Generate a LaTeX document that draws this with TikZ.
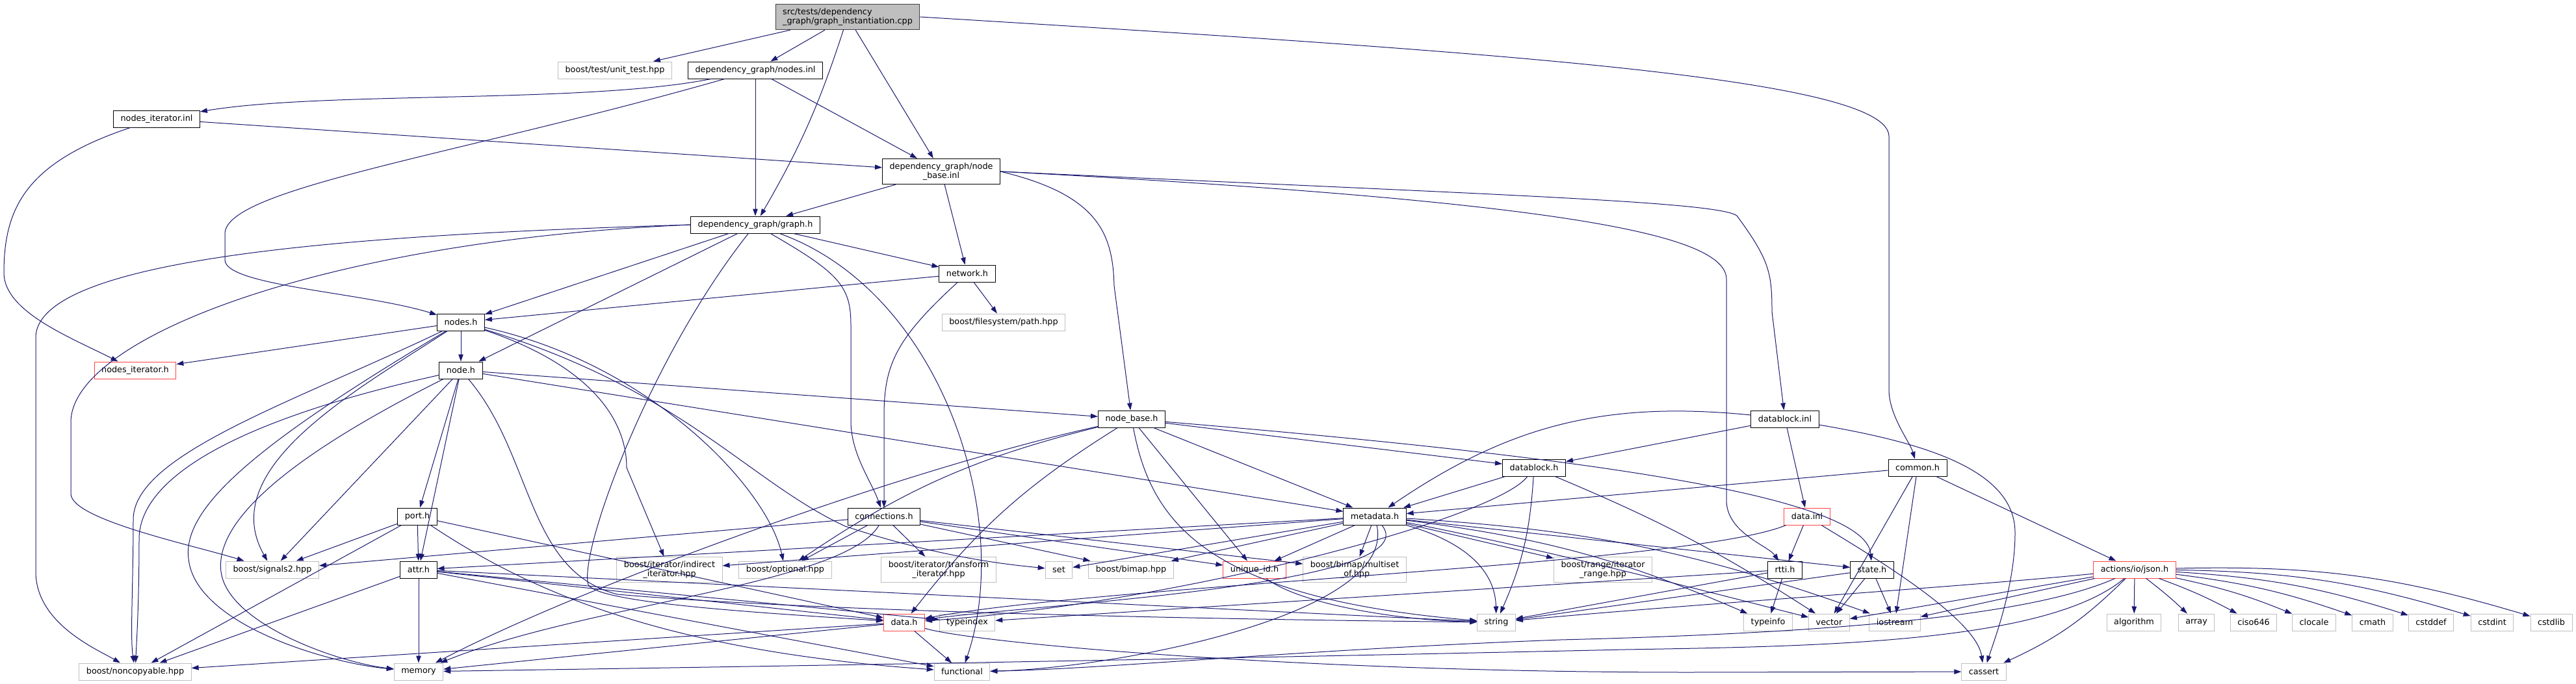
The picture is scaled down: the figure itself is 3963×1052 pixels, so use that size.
\documentclass[tikz,border=0pt]{standalone}
\usepackage{fontspec}
\setmainfont{DejaVu Sans}
\usetikzlibrary{arrows.meta}
\definecolor{edgeblue}{HTML}{191970}
\definecolor{extgray}{HTML}{BFBFBF}
\definecolor{rootgray}{HTML}{BFBFBF}
\definecolor{truncred}{HTML}{FF4545}
\begin{document}
\begin{tikzpicture}[x=1pt, y=-1pt,
    file/.style={rectangle, draw=black, fill=white, line width=1pt,
                 inner xsep=11pt, inner ysep=6pt, minimum height=26pt,
                 font=\fontsize{12.8}{14.6}\selectfont, align=center},
    ext/.style={file, draw=extgray},
    trunc/.style={file, draw=truncred},
    dep/.style={-{Triangle[length=11pt,width=7.5pt]}, line width=1pt, color=edgeblue}
  ]
    \fill[white] (0,0) rectangle (3963,1052);
    \useasboundingbox (0,0) rectangle (3963,1052);

    %% files
    \node[file, fill=rootgray, draw=black!75, align=left] (root) at (1304,26)
        {src/tests/dependency\\\_graph/graph\_instantiation.cpp};
    \node[ext] (unittest) at (946,108) {boost/test/unit\_test.hpp};
    \node[file] (nodesinl) at (1162,108) {dependency\_graph/nodes.inl};
    \node[file] (nodesiterinl) at (241,183) {nodes\_iterator.inl};
    \node[file] (nodebaseinl) at (1448,264) {dependency\_graph/node\\\_base.inl};
    \node[file] (graphh) at (1162,346) {dependency\_graph/graph.h};
    \node[file] (networkh) at (1488,421) {network.h};
    \node[ext] (pathhpp) at (1544,496) {boost/filesystem/path.hpp};
    \node[file] (nodesh) at (709,496) {nodes.h};
    \node[trunc] (nodesiterh) at (208,570) {nodes\_iterator.h};
    \node[file] (nodeh) at (709,570) {node.h};
    \node[file] (nodebaseh) at (1741,645) {node\_base.h};
    \node[file] (datablockinl) at (2746,645) {datablock.inl};
    \node[file] (datablockh) at (2360,720) {datablock.h};
    \node[file] (commonh) at (2950,720) {common.h};
    \node[file] (connh) at (1360,795) {connections.h};
    \node[file] (metah) at (2115,795) {metadata.h};
    \node[file] (porth) at (642,795) {port.h};
    \node[trunc] (datainl) at (2780,795) {data.inl};
    \node[ext] (signals) at (419,877) {boost/signals2.hpp};
    \node[file] (attrh) at (644,877) {attr.h};
    \node[ext] (indirect) at (1030,877) {boost/iterator/indirect\\\_iterator.hpp};
    \node[ext] (optional) at (1208,877) {boost/optional.hpp};
    \node[ext] (transform) at (1444,877) {boost/iterator/transform\\\_iterator.hpp};
    \node[ext] (set) at (1629,877) {set};
    \node[ext] (bimap) at (1740,877) {boost/bimap.hpp};
    \node[trunc] (uniqueid) at (1930,877) {unique\_id.h};
    \node[ext] (multiset) at (2084,877) {boost/bimap/multiset\\\_of.hpp};
    \node[ext] (rangeit) at (2466,877) {boost/range/iterator\\\_range.hpp};
    \node[file] (rttih) at (2746,877) {rtti.h};
    \node[file] (stateh) at (2880,877) {state.h};
    \node[trunc] (jsonh) at (3284,877) {actions/io/json.h};
    \node[trunc] (datah) at (1391,958) {data.h};
    \node[ext] (typeindex) at (1488,958) {typeindex};
    \node[ext] (string) at (2302,958) {string};
    \node[ext] (typeinfo) at (2720,958) {typeinfo};
    \node[ext] (vector) at (2814,958) {vector};
    \node[ext] (iostream) at (2915,958) {iostream};
    \foreach \n/\x in {algorithm/3283, array/3379, ciso646/3467, clocale/3560,
                       cmath/3650, cstddef/3740, cstdint/3834, cstdlib/3925}
        \node[ext] (\n) at (\x,958) {\n};
    \node[ext] (noncopy) at (208,1034) {boost/noncopyable.hpp};
    \node[ext] (memory) at (644,1034) {memory};
    \node[ext] (functional) at (1480,1034) {functional};
    \node[ext] (cassert) at (3052,1034) {cassert};

    %% root
    \draw[dep] (root) -- (unittest);
    \draw[dep] (root) -- (nodesinl);
    \draw[dep] (root) to[bend left=6] (graphh);
    \draw[dep] (root) -- (nodebaseinl);
    \draw[dep] (root.east) .. controls (2300,80) and (2906,120) .. (2906,210)
        -- (2906,600) .. controls (2906,640) and (2938,680) .. (commonh);

    %% nodes.inl, nodes_iterator.inl
    \draw[dep] (nodesinl) .. controls (900,160) and (500,140) .. (nodesiterinl);
    \draw[dep] (nodesinl) .. controls (700,240) and (346,290) .. (346,360)
        -- (346,400) .. controls (346,440) and (560,450) .. (nodesh);
    \draw[dep] (nodesinl) -- (graphh);
    \draw[dep] (nodesinl) -- (nodebaseinl);
    \draw[dep] (nodesiterinl) -- (nodebaseinl);
    \draw[dep] (nodesiterinl) .. controls (40,250) and (6,320) .. (6,420)
        .. controls (6,480) and (110,520) .. (nodesiterh);

    %% node_base.inl
    \draw[dep] (nodebaseinl) -- (graphh);
    \draw[dep] (nodebaseinl) -- (networkh);
    \draw[dep] (nodebaseinl.east) .. controls (1690,300) and (1712,360) .. (1714,440)
        -- (nodebaseh);
    \draw[dep] (nodebaseinl.east) .. controls (2300,300) and (2640,310) .. (2672,332)
        .. controls (2722,400) and (2726,420) .. (2726,480) -- (datablockinl);
    \draw[dep] (nodebaseinl.east) .. controls (2400,310) and (2656,360) .. (2656,430)
        -- (2656,770) .. controls (2656,820) and (2720,840) .. (rttih);

    %% graph.h
    \draw[dep] (graphh) -- (nodesh);
    \draw[dep] (graphh) -- (nodeh);
    \draw[dep] (graphh) -- (networkh);
    \draw[dep] (graphh) .. controls (1290,420) and (1309,440) .. (1309,500)
        -- (1309,650) .. controls (1310,700) and (1340,740) .. (connh);
    \draw[dep] (graphh.west) .. controls (600,360) and (55,390) .. (55,520)
        -- (55,880) .. controls (55,960) and (150,1000) .. (noncopy);
    \draw[dep] (graphh.west) .. controls (500,370) and (109,520) .. (109,650)
        -- (109,760) .. controls (109,800) and (300,840) .. (signals);
    \draw[dep] (graphh) .. controls (1450,450) and (1560,800) .. (functional);
    \draw[dep] (graphh) .. controls (1000,550) and (890,850) .. (905,900)
        .. controls (920,930) and (1200,945) .. (datah);

    %% network.h
    \draw[dep] (networkh) -- (nodesh);
    \draw[dep] (networkh) -- (pathhpp);
    \draw[dep] (networkh) .. controls (1380,520) and (1360,560) .. (1360,640) -- (connh);

    %% nodes.h
    \draw[dep] (nodesh) -- (nodesiterh);
    \draw[dep] (nodesh) -- (nodeh);
    \draw[dep] (nodesh) .. controls (450,620) and (205,700) .. (205,800)
        .. controls (205,900) and (200,980) .. (noncopy);
    \draw[dep] (nodesh) .. controls (400,680) and (280,780) .. (290,860)
        .. controls (300,960) and (500,1020) .. (memory);
    \draw[dep] (nodesh) .. controls (550,600) and (330,720) .. (signals);
    \draw[dep] (nodesh) .. controls (900,560) and (964,640) .. (964,720) -- (indirect);
    \draw[dep] (nodesh) .. controls (1000,560) and (1180,750) .. (optional);
    \draw[dep] (nodesh) .. controls (1050,600) and (1150,740) .. (1300,810)
        .. controls (1450,860) and (1560,870) .. (set);

    %% node.h
    \draw[dep] (nodeh) -- (nodebaseh);
    \draw[dep] (nodeh) -- (metah);
    \draw[dep] (nodeh) -- (porth);
    \draw[dep] (nodeh) -- (attrh);
    \draw[dep] (nodeh) -- (signals);
    \draw[dep] (nodeh) .. controls (350,650) and (214,740) .. (214,830)
        .. controls (214,930) and (210,990) .. (noncopy);
    \draw[dep] (nodeh) .. controls (450,700) and (330,800) .. (340,880)
        .. controls (350,960) and (520,1020) .. (memory);
    \draw[dep] (nodeh) .. controls (820,700) and (810,880) .. (950,915)
        .. controls (1300,945) and (2000,955) .. (string);

    %% node_base.h
    \draw[dep] (nodebaseh) -- (datablockh);
    \draw[dep] (nodebaseh) -- (metah);
    \draw[dep] (nodebaseh) .. controls (2400,700) and (2870,760) .. (stateh);
    \draw[dep] (nodebaseh) -- (uniqueid);
    \draw[dep] (nodebaseh) .. controls (1770,800) and (1850,920) .. (string);
    \draw[dep] (nodebaseh) to[bend right=10] (optional);
    \draw[dep] (nodebaseh) .. controls (1400,720) and (900,900) .. (memory);
    \draw[dep] (nodebaseh) to[bend right=10] (datah);

    %% datablock.inl, datablock.h
    \draw[dep] (datablockinl) -- (datablockh);
    \draw[dep] (datablockinl) to[bend right=20] (metah);
    \draw[dep] (datablockinl) -- (datainl);
    \draw[dep] (datablockinl) .. controls (2950,680) and (3100,720) .. (3100,820)
        .. controls (3100,900) and (3070,980) .. (cassert);
    \draw[dep] (datablockh) -- (metah);
    \draw[dep] (datablockh) .. controls (2300,800) and (1800,930) .. (datah);
    \draw[dep] (datablockh) to[bend left=5] (vector);
    \draw[dep] (datablockh) to[bend left=10] (string);

    %% common.h
    \draw[dep] (commonh) -- (metah);
    \draw[dep] (commonh) -- (jsonh);
    \draw[dep] (commonh) -- (vector);
    \draw[dep] (commonh) -- (iostream);

    %% connections.h
    \draw[dep] (connh) -- (signals);
    \draw[dep] (connh) -- (optional);
    \draw[dep] (connh) -- (transform);
    \draw[dep] (connh) -- (bimap);
    \draw[dep] (connh) -- (uniqueid);
    \draw[dep] (connh) -- (multiset);
    \draw[dep] (connh) .. controls (1300,900) and (900,930) .. (memory);

    %% metadata.h
    \draw[dep] (metah) -- (attrh);
    \draw[dep] (metah) -- (indirect);
    \draw[dep] (metah) -- (set);
    \draw[dep] (metah) -- (bimap);
    \draw[dep] (metah) -- (uniqueid);
    \draw[dep] (metah) -- (multiset);
    \draw[dep] (metah) -- (rangeit);
    \draw[dep] (metah) -- (stateh);
    \draw[dep] (metah) .. controls (2240,830) and (2300,870) .. (string);
    \draw[dep] (metah) .. controls (2200,900) and (1600,930) .. (datah);
    \draw[dep] (metah) .. controls (2400,850) and (2700,930) .. (vector);
    \draw[dep] (metah) to[bend left=8] (typeinfo);
    \draw[dep] (metah) to[bend left=8] (iostream);
    \draw[dep] (metah) .. controls (2150,950) and (1700,1030) .. (functional);

    %% port.h, data.inl, attr.h
    \draw[dep] (porth) -- (signals);
    \draw[dep] (porth) -- (attrh);
    \draw[dep] (porth) -- (noncopy);
    \draw[dep] (porth) -- (datah);
    \draw[dep] (porth) .. controls (800,900) and (1000,1000) .. (functional);
    \draw[dep] (datainl) -- (rttih);
    \draw[dep] (datainl) .. controls (2870,850) and (3040,950) .. (cassert);
    \draw[dep] (datainl) .. controls (2600,870) and (1700,900) .. (datah);
    \draw[dep] (attrh) -- (noncopy);
    \draw[dep] (attrh) -- (memory);
    \draw[dep] (attrh) -- (datah);
    \draw[dep] (attrh) -- (functional);
    \draw[dep] (attrh) -- (string);
    \draw[dep] (attrh) -- (typeindex);

    %% unique_id.h, rtti.h, state.h
    \draw[dep] (uniqueid) .. controls (2000,930) and (2150,955) .. (string);
    \draw[dep] (rttih) -- (typeinfo);
    \draw[dep] (rttih) -- (string);
    \draw[dep] (rttih) -- (typeindex);
    \draw[dep] (stateh) -- (vector);
    \draw[dep] (stateh) -- (iostream);
    \draw[dep] (stateh) -- (string);

    %% actions/io/json.h
    \draw[dep] (jsonh) -- (algorithm);
    \foreach \t/\b in {array/3, ciso646/4, clocale/5, cmath/6, cstddef/7,
                       cstdint/8, cstdlib/9}
        \draw[dep] (jsonh) to[bend left=\b] (\t);
    \draw[dep] (jsonh) -- (vector);
    \draw[dep] (jsonh) -- (iostream);
    \draw[dep] (jsonh) to[bend left=10] (cassert);
    \draw[dep] (jsonh) .. controls (3000,905) and (2600,930) .. (string);
    \draw[dep] (jsonh) .. controls (3150,990) and (2800,995) .. (2500,1000)
        .. controls (1600,1020) and (900,1030) .. (memory);
    \draw[dep] (jsonh) .. controls (3120,950) and (2800,975) .. (2400,985)
        .. controls (2000,1000) and (1700,1030) .. (functional);

    %% data.h
    \draw[dep] (datah) -- (noncopy);
    \draw[dep] (datah) -- (memory);
    \draw[dep] (datah) -- (functional);
    \draw[dep] (datah) .. controls (1500,990) and (2000,1035) .. (2600,1035) -- (cassert);
\end{tikzpicture}
\end{document}
